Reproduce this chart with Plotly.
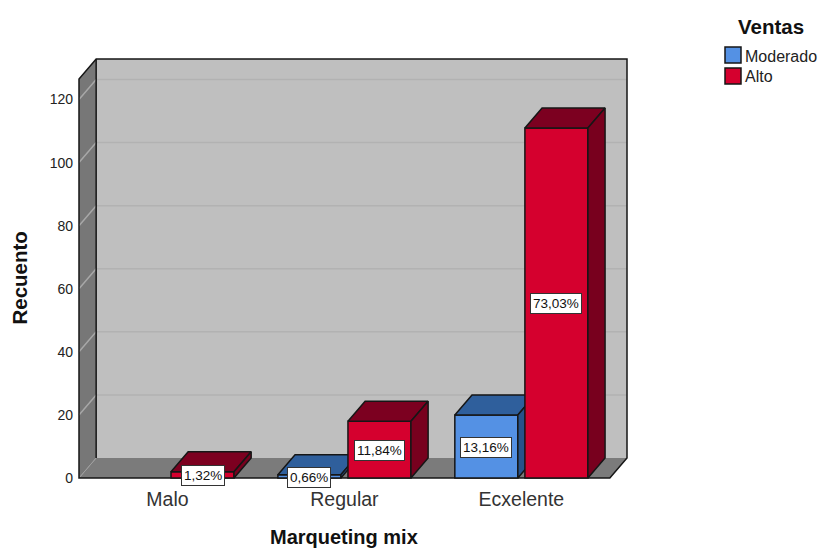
import plotly.graph_objects as go

# Chart data
categories = ["Malo", "Regular", "Ecxelente"]
series_names = ["Moderado", "Alto"]
moderado = [None, 1, 20]
alto = [2, 18, 111]
moderado_labels = [None, "0,66%", "13,16%"]
alto_labels = ["1,32%", "11,84%", "73,03%"]
y_ticks = [0, 20, 40, 60, 80, 100, 120]

# Projection of the pseudo-3D box, in axis units
DX = 0.097
DY = 6.35
BOX_TOP = 126.5
BAR_W = 0.356
BAR_OFF = 0.198
FONT = "Liberation Sans"
INK = "#161616"
FRONT_COLOURS = ["#5491E4", "#D5002E"]

# Page size and plot margins in pixels
WIDTH, HEIGHT = 819, 550
M_L, M_R, M_T, M_B = 77, 190, 57, 70

# Pixels of padding around the box so its outline is not clipped
PXX = 177.0
PXY = 3.15
x_range = [-0.5 - 2 / PXX, 2.5 + DX + 2 / PXX]
y_range = [-2 / PXY, BOX_TOP + DY + 2 / PXY]


def paper_x(px):
    return (px - M_L) / (WIDTH - M_L - M_R)


def paper_y(py):
    return 1 - (py - M_T) / (HEIGHT - M_T - M_B)


def faces(values, offset):
    """Polygons for the top and right side faces of each bar."""
    top_x, top_y, side_x, side_y = [], [], [], []
    for i, v in enumerate(values):
        if v is None:
            continue
        x0 = i + offset - BAR_W / 2
        x1 = i + offset + BAR_W / 2
        top_x += [x0, x0 + DX, x1 + DX, x1, x0, None]
        top_y += [v, v + DY, v + DY, v, v, None]
        side_x += [x1, x1 + DX, x1 + DX, x1, x1, None]
        side_y += [0, DY, v + DY, v, 0, None]
    return top_x, top_y, side_x, side_y


fig = go.Figure()


def add_series(name, values, offset, front, top, side, xa, ya):
    xs = [i + offset for i in range(len(values))]
    fig.add_trace(go.Bar(x=xs, y=values, width=BAR_W, name=name, showlegend=False,
                         marker=dict(color=front, line=dict(color=INK, width=1.5)),
                         xaxis=xa, yaxis=ya, hoverinfo="skip"))
    tx, ty, sx, sy = faces(values, offset)
    for px, py, colour in ((tx, ty, top), (sx, sy, side)):
        fig.add_trace(go.Scatter(x=px, y=py, mode="lines", fill="toself", fillcolor=colour,
                                 line=dict(color=INK, width=1.5), showlegend=False,
                                 xaxis=xa, yaxis=ya, hoverinfo="skip"))


# The red series sits on an overlaid axis pair so its fronts cover the blue side faces
add_series(series_names[0], moderado, -BAR_OFF, FRONT_COLOURS[0], "#2F5F9C", "#27528A", "x", "y")
add_series(series_names[1], alto, BAR_OFF, FRONT_COLOURS[1], "#7C0020", "#78001E", "x2", "y2")

# Walls, floor and grid of the box
x_l, x_r = -0.5, 2.5
y_t = BOX_TOP + DY
wall_shapes = [
    dict(path=f"M{x_l+DX},{DY} L{x_r+DX},{DY} L{x_r+DX},{y_t} L{x_l+DX},{y_t} Z", fillcolor="#BFBFBF"),
    dict(path=f"M{x_l},0 L{x_l+DX},{DY} L{x_l+DX},{y_t} L{x_l},{BOX_TOP} Z", fillcolor="#777777"),
    dict(path=f"M{x_l},0 L{x_r},0 L{x_r+DX},{DY} L{x_l+DX},{DY} Z", fillcolor="#7B7B7B"),
]
for s in wall_shapes:
    fig.add_shape(type="path", xref="x", yref="y", layer="below", line_width=0, **s)
for t in y_ticks[1:]:
    fig.add_shape(type="line", xref="x", yref="y", layer="below",
                  x0=x_l + DX, x1=x_r + DX, y0=t + DY, y1=t + DY,
                  line=dict(color="#B2B2B2", width=1.5))
    fig.add_shape(type="line", xref="x", yref="y", layer="below",
                  x0=x_l, x1=x_l + DX, y0=t, y1=t + DY,
                  line=dict(color="#A8A8A8", width=1.5))
fig.add_shape(type="line", xref="x", yref="y", layer="below",
              x0=x_l, x1=x_l + DX, y0=0, y1=DY, line=dict(color="#A0A0A0", width=1))
fig.add_shape(type="path", xref="x", yref="y", layer="below",
              path=(f"M{x_l},0 L{x_l},{BOX_TOP} L{x_l+DX},{y_t} L{x_r+DX},{y_t} "
                    f"L{x_r+DX},{DY} L{x_r},0 Z"),
              line=dict(color=INK, width=1.5))
fig.add_shape(type="line", xref="x", yref="y", layer="below",
              x0=x_l + DX, x1=x_l + DX, y0=DY, y1=y_t, line=dict(color=INK, width=1.5))

# Percentage labels centred on the bar fronts
annotations = []
for values, labels, offset in ((moderado, moderado_labels, -BAR_OFF), (alto, alto_labels, BAR_OFF)):
    for i, (v, lab) in enumerate(zip(values, labels)):
        if v is None:
            continue
        annotations.append(dict(x=i + offset, y=v / 2, xref="x", yref="y", yshift=-1, text=lab, showarrow=False,
                                font=dict(family=FONT, size=13.5, color="#111111"),
                                bgcolor="white", bordercolor="#333333", borderwidth=1, borderpad=2))

# Axis titles
annotations.append(dict(x=1, y=0, xref="x", yref="paper", yshift=-57, yanchor="middle", text="<b>Marqueting mix</b>",
                        showarrow=False, font=dict(family=FONT, size=20, color="#111111")))
annotations.append(dict(x=-0.5, y=BOX_TOP / 2, xref="x", yref="y", xshift=-59, textangle=-90, text="<b>Recuento</b>",
                        showarrow=False, font=dict(family=FONT, size=20.5, color="#111111")))

# Legend block to the right of the plot
annotations.append(dict(x=paper_x(771), y=paper_y(26), xref="paper", yref="paper", xanchor="center", yanchor="middle",
                        text="<b>Ventas</b>", showarrow=False, font=dict(family=FONT, size=20.5, color="#111111")))
for name, colour, top_px in zip(series_names, FRONT_COLOURS, (47, 68)):
    fig.add_shape(type="rect", xref="paper", yref="paper", layer="above",
                  x0=paper_x(725), x1=paper_x(741), y0=paper_y(top_px), y1=paper_y(top_px + 16),
                  fillcolor=colour, line=dict(color=INK, width=1.5))
    annotations.append(dict(x=paper_x(743), y=paper_y(top_px + 9), xref="paper", yref="paper",
                            xanchor="left", yanchor="middle",
                            text=name, showarrow=False, font=dict(family=FONT, size=16, color="#222222")))

axis_common = dict(showgrid=False, zeroline=False, showline=False)
fig.update_layout(
    width=WIDTH, height=HEIGHT, autosize=False,
    margin=dict(l=M_L, r=M_R, t=M_T, b=M_B, autoexpand=False),
    paper_bgcolor="white", plot_bgcolor="white",
    barmode="overlay", annotations=annotations, showlegend=False,
    font=dict(family=FONT, color="#222222"),
    xaxis=dict(range=x_range, tickmode="array", tickvals=[0, 1, 2], ticktext=categories,
               tickfont=dict(size=19.5, color="#333333"), ticks="", ticklabelstandoff=5, **axis_common),
    yaxis=dict(range=y_range, tickmode="array", tickvals=y_ticks,
               tickfont=dict(size=14, color="#222222"), ticks="", ticklabelstandoff=3, **axis_common),
    xaxis2=dict(range=x_range, overlaying="x", visible=False, matches="x"),
    yaxis2=dict(range=y_range, overlaying="y", visible=False, matches="y"),
)

fig.write_html("out.html", config=dict(displayModeBar=False))
